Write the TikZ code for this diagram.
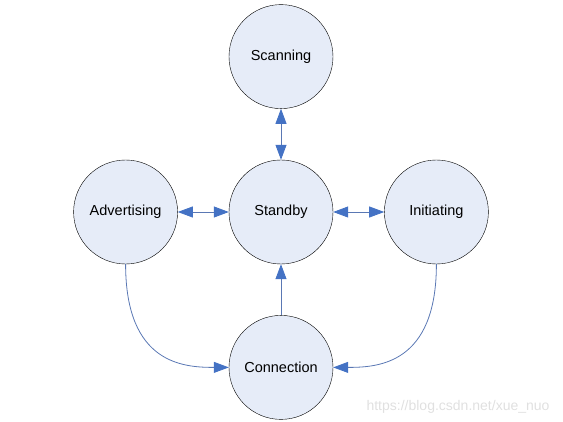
\documentclass[tikz,border=0pt]{standalone}
\usepackage{fontspec}
\setmainfont{Liberation Sans}
\usepackage{tikz}
\usetikzlibrary{arrows.meta,positioning}
\definecolor{statefill}{RGB}{230,236,248}
\definecolor{linkblue}{RGB}{90,120,180}
\definecolor{tipblue}{RGB}{68,114,196}
\tikzset{
  bigtip/.tip   = {Triangle[length=15pt,width=11pt,fill=tipblue,color=tipblue]},
  state/.style  = {draw, circle, thin, fill=statefill, minimum size=104pt,
                   inner sep=0pt, font=\fontsize{14.5}{17}\selectfont},
  link/.style   = {draw=linkblue, line width=0.8pt, -bigtip},
  twoway/.style = {link, bigtip-bigtip}
}

\begin{document}
\begin{tikzpicture}[node distance=51pt]
\useasboundingbox (0,0) rectangle (563pt,-422pt);

% centre state, the others around it
\node[state] (standby) at (281pt,-212pt) {Standby};
\node[state, above=of standby] (scanning) {Scanning};
\node[state, left=of standby] (advertising) {Advertising};
\node[state, right=of standby] (initiating) {Initiating};
\node[state, below=of standby] (connection) {Connection};

% transitions
\draw[twoway] (scanning) -- (standby);
\draw[twoway] (advertising) -- (standby);
\draw[twoway] (standby) -- (initiating);
\draw[link] (connection) -- (standby);
\draw[link] (advertising.south) .. controls +(0,-100pt) and +(-45pt,0) .. (connection.west);
\draw[link] (initiating.south) .. controls +(0,-100pt) and +(45pt,0) .. (connection.east);

% watermark
\node[text=black!12, font=\fontsize{14}{16}\selectfont, anchor=east] (mark)
  at (553pt,-407pt) {https://blog.csdn.net/xue\_nuo};
\end{tikzpicture}
\end{document}
